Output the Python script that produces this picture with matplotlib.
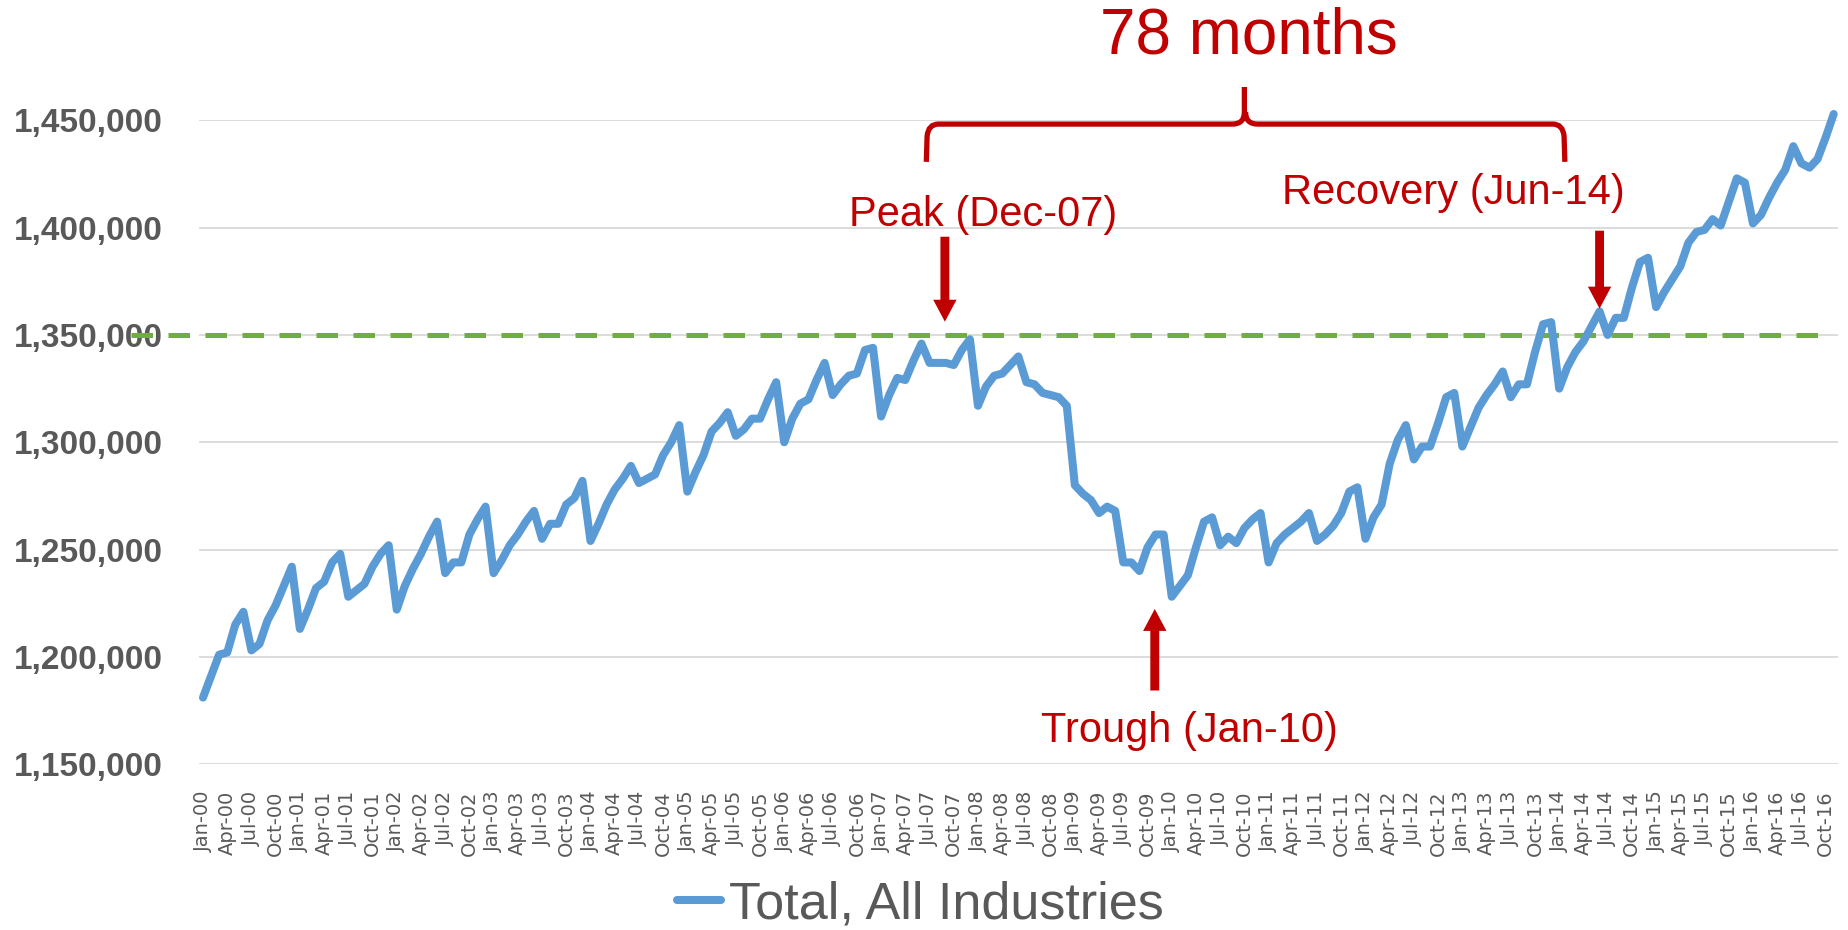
import numpy as np
import pandas as pd
import matplotlib
matplotlib.use("Agg")
import matplotlib.pyplot as plt
from matplotlib.patches import FancyArrowPatch
from matplotlib.path import Path
from matplotlib.patches import PathPatch
from matplotlib.lines import Line2D
from matplotlib.ticker import FuncFormatter

# monthly employment, Jan-00 .. Nov-16 (thousands)
total_k = [
    1181, 1191, 1201, 1202, 1215, 1221, 1203, 1206, 1217, 1224, 1233, 1242,
    1213, 1222, 1232, 1235, 1244, 1248, 1228, 1231, 1234, 1242, 1248, 1252,
    1222, 1233, 1241, 1248, 1256, 1263, 1239, 1244, 1244, 1257, 1264, 1270,
    1239, 1245, 1252, 1257, 1263, 1268, 1255, 1262, 1262, 1271, 1274, 1282,
    1254, 1262, 1271, 1278, 1283, 1289, 1281, 1283, 1285, 1294, 1300, 1308,
    1277, 1286, 1294, 1305, 1309, 1314, 1303, 1306, 1311, 1311, 1320, 1328,
    1300, 1311, 1318, 1320, 1329, 1337, 1322, 1327, 1331, 1332, 1343, 1344,
    1312, 1322, 1330, 1329, 1338, 1346, 1337, 1337, 1337, 1336, 1343, 1348,
    1317, 1326, 1331, 1332, 1336, 1340, 1328, 1327, 1323, 1322, 1321, 1317,
    1280, 1276, 1273, 1267, 1270, 1268, 1244, 1244, 1240, 1251, 1257, 1257,
    1228, 1233, 1238, 1251, 1263, 1265, 1252, 1256, 1253, 1260, 1264, 1267,
    1244, 1253, 1257, 1260, 1263, 1267, 1254, 1257, 1261, 1267, 1277, 1279,
    1255, 1265, 1271, 1290, 1301, 1308, 1292, 1298, 1298, 1309, 1321, 1323,
    1298, 1307, 1316, 1322, 1327, 1333, 1321, 1327, 1327, 1342, 1355, 1356,
    1325, 1335, 1342, 1347, 1354, 1361, 1350, 1358, 1358, 1372, 1384, 1386,
    1363, 1370, 1376, 1382, 1393, 1398, 1399, 1404, 1401, 1412, 1423, 1421,
    1402, 1406, 1414, 1421, 1427, 1438, 1430, 1428, 1432, 1442, 1453,
]
months = pd.date_range("2000-01-01", periods=len(total_k), freq="MS").strftime("%b-%y").tolist()
peak_level = 1350000
series_name = "Total, All Industries"

total = np.array(total_k) * 1000
x = np.arange(len(total))

blue = "#5B9BD5"
green = "#70AD47"
red = "#C00000"
gray = "#595959"

fig = plt.figure(figsize=(18.49, 9.30), dpi=100)
ax = fig.add_axes([0.1076, 0.1784, 0.8863, 0.6921])

line, = ax.plot(x, total, color=blue, lw=5.8, solid_capstyle="round",
                solid_joinstyle="round", clip_on=False, zorder=4)

# peak level reference (runs out over the tick labels on the left)
ax.plot([-8.9, 200.3], [peak_level, peak_level], color=green, lw=3.6,
        linestyle=(0, (4.3, 3.1)), clip_on=False, zorder=3)

ax.set_xlim(-0.5, len(total) - 0.5)
ax.set_ylim(1150000, 1450000)
ax.set_yticks(np.arange(1150000, 1450001, 50000))
ax.yaxis.set_major_formatter(FuncFormatter(lambda v, p: f"{v:,.0f}"))
ax.set_xticks(x[::3])
ax.set_xticklabels(months[::3], rotation=90, fontsize=14, color=gray,
                   family="DejaVu Sans")
for lab in ax.get_yticklabels():
    lab.set_family("Liberation Sans")
    lab.set_fontweight("bold")
    lab.set_fontsize(24)
    lab.set_color(gray)
ax.tick_params(axis="x", length=0, pad=19)
ax.tick_params(axis="y", length=0, pad=26)
ax.grid(axis="y", color="#D9D9D9", lw=1.3)
ax.set_axisbelow(True)
for s in ax.spines.values():
    s.set_visible(False)

# annotations
txt = dict(color=red, family="Liberation Sans", ha="center", va="baseline",
           clip_on=False)
ax.text(129.6, 1481000, "78 months", fontsize=46, **txt)
ax.text(96.6, 1401000, "Peak (Dec-07)", fontsize=30, **txt)
ax.text(154.9, 1411000, "Recovery (Jun-14)", fontsize=30, **txt)
ax.text(122.2, 1160500, "Trough (Jan-10)", fontsize=30, **txt)

arrow_style = "simple,head_length=0.79,head_width=0.84,tail_width=0.32"
for xa, y0, y1 in [(91.9, 1395800, 1356200),
                   (173.0, 1398600, 1362300),
                   (117.9, 1184300, 1222300)]:
    ax.add_patch(FancyArrowPatch((xa, y0), (xa, y1), arrowstyle=arrow_style,
                                 mutation_scale=20, color=red, lw=0,
                                 shrinkA=0, shrinkB=0, clip_on=False, zorder=5))

# curly brace over the 78 months
bx0, bx1, bmid = 89.6, 168.7, 129.0
by, bend, btip = 1448300, 1430700, 1465600
rx, ry = 1.5, 5600
verts = [
    (bx0, bend), (bx0 + 0.1, by - ry), (bx0 + 0.25, by), (bx0 + rx, by),
    (bmid - rx, by), (bmid, by), (bmid, by + ry), (bmid, btip),
    (bmid + 0.15, by + ry), (bmid + 0.15, by), (bmid + 0.15 + rx, by),
    (bx1 - rx, by), (bx1 - 0.25, by), (bx1 - 0.1, by - ry), (bx1, bend),
]
codes = [Path.MOVETO, Path.LINETO, Path.CURVE3, Path.CURVE3,
         Path.LINETO, Path.CURVE3, Path.CURVE3, Path.LINETO,
         Path.MOVETO, Path.CURVE3, Path.CURVE3,
         Path.LINETO, Path.CURVE3, Path.CURVE3, Path.LINETO]
ax.add_patch(PathPatch(Path(verts, codes), facecolor="none", edgecolor=red,
                       lw=3.8, clip_on=False, zorder=5))

leg = fig.legend([line], [series_name], loc="center",
                 bbox_to_anchor=(920 / 1849, 1 - 905 / 930), frameon=False,
                 handlelength=0.85, handletextpad=0.15,
                 prop={"family": "Liberation Sans", "size": 37.5})
for t in leg.get_texts():
    t.set_color(gray)

fig.savefig("out.png", dpi=100)
